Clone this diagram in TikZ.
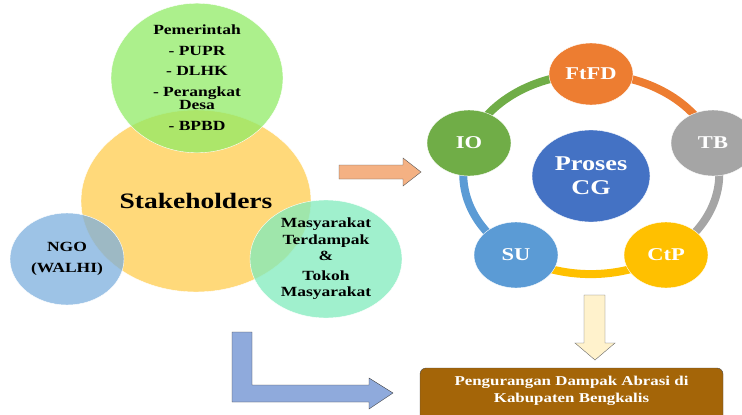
\documentclass[tikz,border=0pt]{standalone}
\usepackage{fontspec}
\setmainfont{Liberation Serif}[FakeStretch=1.25]
\usetikzlibrary{shapes.geometric,backgrounds}
\definecolor{stakecol}{HTML}{FFCC4D}
\definecolor{pemcol}{HTML}{90EB65}
\definecolor{ngocol}{HTML}{7CAFDE}
\definecolor{masycol}{HTML}{80EBBC}
\definecolor{ftfdcol}{HTML}{ED7D31}
\definecolor{tbcol}{HTML}{A5A5A5}
\definecolor{ctpcol}{HTML}{FFC000}
\definecolor{sucol}{HTML}{5B9BD5}
\definecolor{iocol}{HTML}{70AD47}
\definecolor{cgcol}{HTML}{4472C4}
\definecolor{brown}{HTML}{A46508}
\definecolor{arrorange}{HTML}{F4B183}
\definecolor{arrblue}{HTML}{8FAADC}
\definecolor{arrcream}{HTML}{FFF2CC}
\begin{document}
\begin{tikzpicture}[x=1pt,y=-1pt,
    blob/.style={ellipse,draw=white,fill opacity=0.75,text opacity=1,inner sep=0pt,
      align=center,font=\fontsize{14}{16.5}\selectfont\bfseries},
    step node/.style={ellipse,draw=white,inner sep=0pt,minimum width=84pt,minimum height=66pt,
      text=white,font=\fontsize{18}{20}\selectfont\bfseries},
    ring/.style={line width=8pt}]
  \useasboundingbox (0,0) rectangle (742,415);
  % stakeholders
  \node[blob,fill=stakecol,minimum width=230pt,minimum height=182pt,
    font=\fontsize{22}{24}\selectfont\bfseries] (stake) at (196,201) {Stakeholders};
  \node[blob,fill=pemcol,minimum width=172pt,minimum height=136pt,
    font=\fontsize{14}{13}\selectfont\bfseries] (pem) at (197,78)
    {Pemerintah\\[8pt]- PUPR\\[7pt]- DLHK\\[8pt]- Perangkat\\Desa\\[8pt]- BPBD};
  \node[blob,fill=ngocol,minimum width=114pt,minimum height=92pt] (ngo) at (67,259)
    {NGO\\[4pt](WALHI)};
  \node[blob,fill=masycol,minimum width=152pt,minimum height=118pt] (masy) at (326,259)
    {Masyarakat\\Terdampak\\\&\\[3pt]Tokoh\\Masyarakat};
  % arrows
  \draw[draw=black!65,fill=arrorange] (339,165) -- (403,165) -- (403,158)
    -- (421,172) -- (403,186) -- (403,179) -- (339,179) -- cycle;
  \draw[draw=black!75,fill=arrblue]
    (232,332) -- (252,332) -- (252,385) -- (369,385) -- (369,378) -- (393,393)
    -- (369,409) -- (369,402) -- (232,402) -- cycle;
  \draw[draw=black!60,fill=arrcream] (584,295) -- (605,295) -- (605,343)
    -- (615,343) -- (595,360) -- (575,343) -- (584,343) -- cycle;
  % cycle
  \node[ellipse,fill=cgcol,draw=white,inner sep=0pt,minimum width=118pt,minimum height=92pt,
    text=white,align=center,font=\fontsize{21}{24}\selectfont\bfseries] (cg) at (591,176)
    {Proses\\CG};
  \node[step node,fill=ftfdcol,minimum height=62pt] (ftfd) at (591,74) {FtFD};
  \node[step node,fill=tbcol] (tb) at (713,143) {TB};
  \node[step node,fill=ctpcol] (ctp) at (666,255) {CtP};
  \node[step node,fill=sucol] (su) at (516,255) {SU};
  \node[step node,fill=iocol] (io) at (469,143) {IO};
  \begin{scope}[on background layer]
    \draw[ring,iocol] (io.center) arc[start angle=198,end angle=270,x radius=128,y radius=100];
    \draw[ring,ftfdcol] (ftfd.center) arc[start angle=270,end angle=342,x radius=128,y radius=100];
    \draw[ring,tbcol] (tb.center) arc[start angle=342,end angle=414,x radius=128,y radius=100];
    \draw[ring,ctpcol] (ctp.center) arc[start angle=54,end angle=126,x radius=128,y radius=100];
    \draw[ring,sucol] (su.center) arc[start angle=126,end angle=198,x radius=128,y radius=100];
  \end{scope}
  % result
  \draw[draw=black!70,fill=brown,rounded corners=6pt] (420,425) -- (420,368) -- (723,368) -- (723,425);
  \node[text=white,align=center,font=\fontsize{13.5}{17}\selectfont\bfseries] (hasil) at (571.5,391)
    {Pengurangan Dampak Abrasi di\\Kabupaten Bengkalis};
\end{tikzpicture}
\end{document}
